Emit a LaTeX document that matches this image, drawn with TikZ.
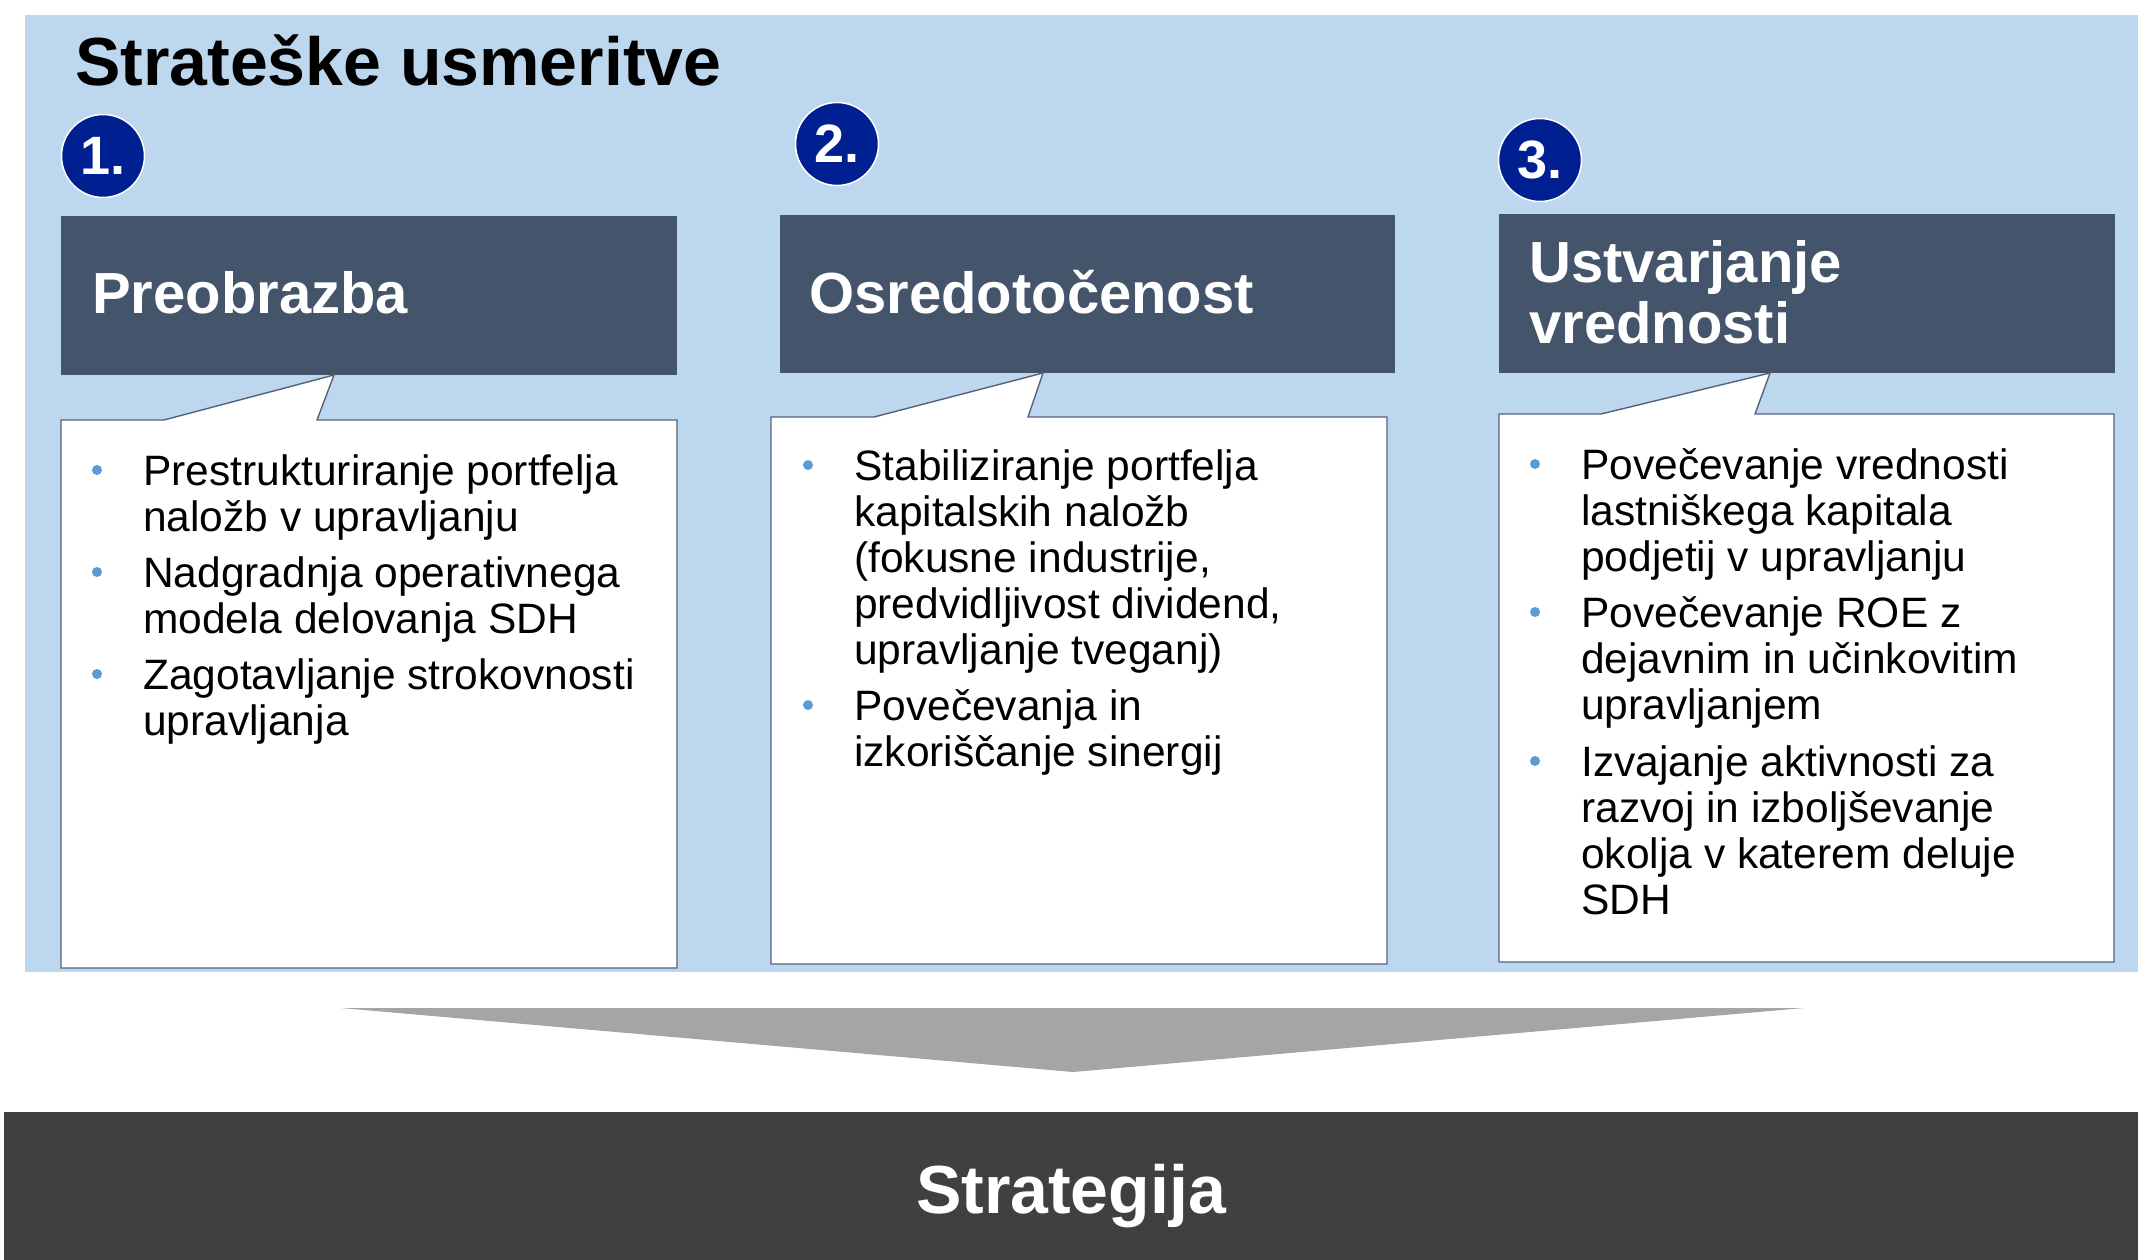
\documentclass[tikz,border=0pt]{standalone}
\usepackage{fontspec}
\setmainfont{Liberation Sans}

\definecolor{panelblue}{HTML}{BDD7EE}
\definecolor{headslate}{HTML}{44546A}
\definecolor{numnavy}{RGB}{0,32,146}
\definecolor{bulletblue}{HTML}{5B9BD5}
\definecolor{arrowgray}{HTML}{A5A5A5}
\definecolor{bardark}{HTML}{404040}
\definecolor{boxline}{HTML}{56627A}

% multi-line nodes sit on the baseline of their last line
\tikzset{
  headbox/.style={fill=headslate, inner sep=0, anchor=north west},
  headtext/.style={anchor=base west, inner sep=0, text=white, align=left,
    font=\fontsize{58}{61}\selectfont\bfseries},
  numdisc/.style={circle, fill=numnavy, draw=white, line width=1.5, minimum size=83,
    inner sep=0, text=white, font=\fontsize{54}{54}\selectfont\bfseries},
  callout/.style={fill=white, draw=boxline, line width=1.4},
  itemtext/.style={anchor=base west, inner sep=0, align=left,
    font=\fontsize{42.5}{46}\selectfont},
  bulletdot/.style={circle, fill=bulletblue, inner sep=0, minimum size=10},
}

\begin{document}
\begin{tikzpicture}[x=1pt,y=-1pt]
\useasboundingbox (0,0) rectangle (2138,1260);
\fill[white] (0,0) rectangle (2138,1260);

% upper panel
\node[fill=panelblue, inner sep=0, minimum width=2113.5, minimum height=957, anchor=north west] (panel) at (24.5,15) {};
\node[anchor=base west, inner sep=0, font=\fontsize{68}{68}\selectfont\bfseries] (title) at (75,86) {Strateške usmeritve};

% numbers
\node[numdisc] (num1) at (103,156) {1.};
\node[numdisc] (num2) at (837,144) {2.};
\node[numdisc] (num3) at (1540,160) {3.};

% headings
\node[headbox, minimum width=616, minimum height=159] (head1) at (61,216) {};
\node[headbox, minimum width=615, minimum height=158] (head2) at (780,215) {};
\node[headbox, minimum width=616, minimum height=159] (head3) at (1499,214) {};
\node[headtext] (head1t) at (92,313) {Preobrazba};
\node[headtext] (head2t) at (809,313) {Osredotočenost};
\node[headtext] (head3t) at (1529,343) {Ustvarjanje\\vrednosti};

% callout boxes
\draw[callout] (61,420) -- (164,420) -- (334,375) -- (317,420) -- (677,420) -- (677,968) -- (61,968) -- cycle;
\draw[callout] (771,417) -- (874,417) -- (1043,373) -- (1028,417) -- (1387,417) -- (1387,964) -- (771,964) -- cycle;
\draw[callout] (1499,414) -- (1601,414) -- (1770,373) -- (1755,414) -- (2114,414) -- (2114,962) -- (1499,962) -- cycle;

% box 1
\node[bulletdot] (b11) at (97,470) {};
\node[itemtext] (t11) at (143,531) {Prestrukturiranje portfelja\\naložb v upravljanju};
\node[bulletdot] (b12) at (97,572) {};
\node[itemtext] (t12) at (143,633) {Nadgradnja operativnega\\modela delovanja SDH};
\node[bulletdot] (b13) at (97,674) {};
\node[itemtext] (t13) at (143,735) {Zagotavljanje strokovnosti\\upravljanja};

% box 2
\node[bulletdot] (b21) at (808,465) {};
\node[itemtext] (t21) at (854,664) {Stabiliziranje portfelja\\kapitalskih naložb\\(fokusne industrije,\\predvidljivost dividend,\\upravljanje tveganj)};
\node[bulletdot] (b22) at (808,705) {};
\node[itemtext] (t22) at (854,766) {Povečevanja in\\izkoriščanje sinergij};

% box 3
\node[bulletdot] (b31) at (1535,464) {};
\node[itemtext] (t31) at (1581,571) {Povečevanje vrednosti\\lastniškega kapitala\\podjetij v upravljanju};
\node[bulletdot] (b32) at (1535,612) {};
\node[itemtext] (t32) at (1581,719) {Povečevanje ROE z\\dejavnim in učinkovitim\\upravljanjem};
\node[bulletdot] (b33) at (1535,761) {};
\node[itemtext] (t33) at (1581,914) {Izvajanje aktivnosti za\\razvoj in izboljševanje\\okolja v katerem deluje\\SDH};

% arrow and strategy bar
\fill[arrowgray] (341,1008) -- (1804,1008) -- (1073,1072) -- cycle;
\node[fill=bardark, inner sep=0, minimum width=2134, minimum height=148, anchor=north west] (bar) at (4,1112) {};
\node[anchor=base, inner sep=0, text=white, font=\fontsize{68}{68}\selectfont\bfseries] (strat) at (1071,1213) {Strategija};
\end{tikzpicture}
\end{document}
